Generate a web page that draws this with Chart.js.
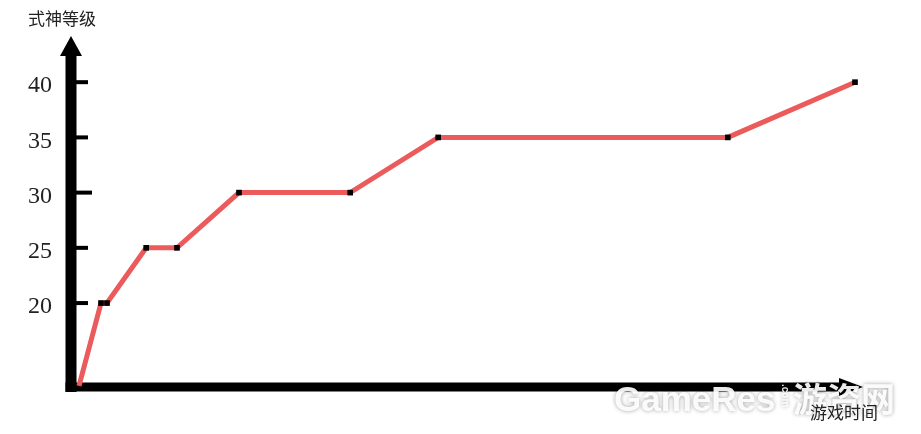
<!DOCTYPE html>
<html>
<head>
<meta charset="utf-8">
<script src="https://cdn.jsdelivr.net/npm/chart.js"></script>
<style>
body { margin: 0; background: #fff; }
#wrap { width: 921px; height: 434px; }
</style>
</head>
<body>
<div id="wrap"><canvas id="levelChart"></canvas></div>
<script>
// values
var gameTime = [1, 3.75, 4.5, 9.4, 13.25, 21, 34.9, 45.9, 82.1, 98];
var shikigamiLevel = [12.5, 20, 20, 25, 25, 30, 30, 35, 35, 40];
var levelTicks = [20, 25, 30, 35, 40];
var yTitle = '式神等级';
var xTitle = '游戏时间';

var points = gameTime.map(function (t, i) { return { x: t, y: shikigamiLevel[i] }; });

// thick black axes with arrow heads and short tick dashes
var arrowAxes = {
    id: 'arrowAxes',
    beforeDatasetsDraw: function (chart) {
        var ctx = chart.ctx, a = chart.chartArea, y = chart.scales.y;
        ctx.save();
        ctx.fillStyle = '#000';
        // vertical axis
        ctx.fillRect(a.left - 5.5, a.top + 17, 11, a.bottom - a.top - 12);
        ctx.beginPath();
        ctx.moveTo(a.left, a.top - 2);
        ctx.lineTo(a.left - 11, a.top + 18);
        ctx.lineTo(a.left + 11, a.top + 18);
        ctx.closePath();
        ctx.fill();
        // horizontal axis
        ctx.fillRect(a.left - 5.5, a.bottom - 4.5, a.right - a.left - 26, 9);
        ctx.beginPath();
        ctx.moveTo(a.right - 8, a.bottom);
        ctx.lineTo(a.right - 32, a.bottom - 9);
        ctx.lineTo(a.right - 32, a.bottom + 9);
        ctx.closePath();
        ctx.fill();
        // tick dashes
        levelTicks.forEach(function (v) {
            var py = y.getPixelForValue(v);
            ctx.fillRect(a.left + 5, py - 2, v === 30 ? 16 : 12, 4);
        });
        ctx.restore();
    },
    afterDraw: function (chart) {
        var ctx = chart.ctx;
        ctx.save();
        // watermark
        ctx.textBaseline = 'alphabetic';
        ctx.textAlign = 'left';
        ctx.shadowColor = 'rgba(0,0,0,0.4)';
        ctx.shadowBlur = 4;
        ctx.fillStyle = 'rgba(255,255,255,0.92)';
        ctx.font = 'bold 35px "Liberation Sans", sans-serif';
        ctx.fillText('GameRes', 614, 411);
        ctx.font = 'bold 34px "Noto Sans CJK SC"';
        ctx.fillText('游资网', 793, 412);
        ctx.save();
        ctx.translate(786, 392);
        ctx.rotate(Math.PI / 2);
        ctx.font = 'bold 10px "Liberation Sans", sans-serif';
        ctx.fillText('.com', -8, 4);
        ctx.restore();
        // axis titles
        ctx.shadowColor = 'transparent';
        ctx.shadowBlur = 0;
        ctx.fillStyle = '#222';
        ctx.font = '17px "Noto Sans CJK SC"';
        ctx.textBaseline = 'middle';
        ctx.fillText(yTitle, 28, 19);
        ctx.fillText(xTitle, 810, 413);
        ctx.restore();
    }
};

var ctx = document.getElementById('levelChart').getContext('2d');

var levelChart = new Chart(ctx, {
    type: 'line',
    data: {
        datasets: [{
            data: points,
            borderColor: '#ec5b5b',
            borderWidth: 5,
            tension: 0,
            pointStyle: 'rect',
            pointRadius: shikigamiLevel.map(function (v, i) { return i === 0 ? 0 : 4; }),
            pointBackgroundColor: '#000',
            pointBorderWidth: 0,
            clip: false
        }]
    },
    options: {
        responsive: true,
        maintainAspectRatio: false,
        animation: false,
        layout: { padding: { top: 38, right: 50, bottom: 47, left: 0 } },
        plugins: { legend: { display: false }, tooltip: { enabled: false } },
        scales: {
            x: { type: 'linear', min: 0, max: 100, display: false },
            y: {
                min: 12.4,
                max: 44,
                afterFit: function (scale) { scale.width = 71; },
                afterBuildTicks: function (scale) {
                    scale.ticks = levelTicks.map(function (v) { return { value: v }; });
                },
                grid: { display: false, drawTicks: false },
                border: { display: false },
                ticks: {
                    padding: 19,
                    labelOffset: 4,
                    color: '#222',
                    font: { family: 'Liberation Serif', size: 24 }
                }
            }
        }
    },
    plugins: [arrowAxes]
});
</script>
</body>
</html>
